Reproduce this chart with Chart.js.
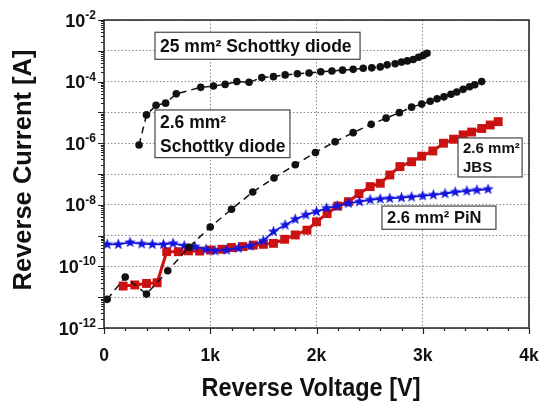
<!DOCTYPE html>
<html>
<head>
<meta charset="utf-8">
<script src="https://cdn.jsdelivr.net/npm/chart.js@4/dist/chart.umd.min.js"></script>
<style>
html, body { margin: 0; padding: 0; background: #fff; }
</style>
</head>
<body>
<canvas id="ivChart" width="541" height="405"></canvas>
<script>
// reverse voltage [V] / reverse current [A]
const voltSchottky25 = [330, 400, 490, 580, 680, 910, 1030, 1140, 1250, 1365, 1485, 1595, 1705, 1820, 1930, 2040, 2145, 2245, 2345, 2440, 2520, 2600, 2665, 2740, 2800, 2855, 2910, 2960, 3005, 3040];
const currSchottky25 = [8.7e-7, 8.3e-6, 1.7e-5, 2.0e-5, 4.0e-5, 6.5e-5, 7.2e-5, 8.1e-5, 1.0e-4, 9.5e-5, 1.35e-4, 1.45e-4, 1.65e-4, 1.8e-4, 1.9e-4, 2.1e-4, 2.2e-4, 2.35e-4, 2.5e-4, 2.7e-4, 2.8e-4, 3.0e-4, 3.5e-4, 3.8e-4, 4.3e-4, 4.7e-4, 5.2e-4, 6.2e-4, 7.1e-4, 8.3e-4];

const voltSchottky26 = [30, 200, 400, 600, 800, 1000, 1200, 1400, 1600, 1800, 1990, 2175, 2345, 2515, 2655, 2780, 2895, 2990, 3070, 3135, 3200, 3265, 3320, 3380, 3440, 3490, 3555];
const currSchottky26 = [8.5e-12, 4.5e-11, 1.26e-11, 7.2e-11, 4.2e-10, 1.9e-9, 7.2e-9, 2.6e-8, 7.4e-8, 2.0e-7, 5.0e-7, 1.12e-6, 2.2e-6, 4.1e-6, 6.5e-6, 9.8e-6, 1.48e-5, 1.86e-5, 2.3e-5, 2.75e-5, 3.2e-5, 3.9e-5, 4.6e-5, 5.6e-5, 6.8e-5, 7.9e-5, 1.0e-4];

const voltJBS = [180, 290, 400, 500, 590, 700, 795, 900, 1000, 1110, 1200, 1305, 1405, 1500, 1595, 1700, 1800, 1910, 2000, 2100, 2200, 2300, 2400, 2505, 2600, 2690, 2785, 2895, 2990, 3095, 3195, 3290, 3380, 3460, 3555, 3635, 3710];
const currJBS = [2.3e-11, 2.5e-11, 2.8e-11, 2.95e-11, 3.0e-10, 3.0e-10, 3.2e-10, 3.15e-10, 3.4e-10, 3.6e-10, 4.1e-10, 4.4e-10, 4.9e-10, 5.2e-10, 5.6e-10, 7.6e-10, 1.05e-9, 1.5e-9, 2.8e-9, 5.2e-9, 9.1e-9, 1.26e-8, 2.3e-8, 3.9e-8, 5.0e-8, 9.3e-8, 1.74e-7, 2.5e-7, 3.8e-7, 5.6e-7, 1.0e-6, 1.35e-6, 1.86e-6, 2.3e-6, 3.0e-6, 3.9e-6, 5.0e-6];

const voltPiN = [30, 135, 245, 355, 455, 560, 650, 755, 855, 960, 1045, 1155, 1265, 1375, 1500, 1595, 1705, 1800, 1900, 2000, 2095, 2195, 2300, 2405, 2505, 2600, 2690, 2800, 2895, 3000, 3100, 3210, 3305, 3415, 3510, 3615];
const currPiN = [5.2e-10, 5.2e-10, 6.0e-10, 5.4e-10, 5.2e-10, 5.2e-10, 5.6e-10, 4.7e-10, 4.4e-10, 3.6e-10, 3.2e-10, 3.4e-10, 3.9e-10, 4.6e-10, 6.8e-10, 1.35e-9, 2.2e-9, 3.4e-9, 4.7e-9, 6.0e-9, 7.8e-9, 9.1e-9, 1.12e-8, 1.26e-8, 1.45e-8, 1.55e-8, 1.62e-8, 1.7e-8, 1.8e-8, 1.95e-8, 2.1e-8, 2.3e-8, 2.6e-8, 2.8e-8, 3.0e-8, 3.2e-8];

const xTickValues = [0, 1000, 2000, 3000, 4000];
const xTickLabels = ['0', '1k', '2k', '3k', '4k'];
const yDecades = [-12, -11, -10, -9, -8, -7, -6, -5, -4, -3, -2];
const yLabelDecades = [-12, -10, -8, -6, -4, -2];

const FONT = '"Liberation Sans", Arial, sans-serif';

// label boxes, corners in data units
const notes = [
  { x1: 480, x2: 2410, y1: 4.0e-3, y2: 5.3e-4, size: 17.5, lines: ['25 mm² Schottky diode'] },
  { x1: 480, x2: 1750, y1: 1.2e-5, y2: 3.4e-7, size: 17.5, lines: ['2.6 mm²', 'Schottky diode'] },
  { x1: 3332, x2: 3935, y1: 1.48e-6, y2: 8.0e-8, size: 15, lines: ['2.6 mm²', 'JBS'] },
  { x1: 2616, x2: 3689, y1: 9.1e-9, y2: 1.6e-9, size: 16.5, lines: ['2.6 mm² PiN'] }
];

function toPoints(xs, ys) {
  return xs.map((v, i) => ({ x: v, y: ys[i] }));
}

// filled star marker for the PiN curve
function makeStar(color) {
  const c = document.createElement('canvas');
  c.width = 13; c.height = 13;
  const g = c.getContext('2d');
  g.fillStyle = color;
  g.beginPath();
  for (let i = 0; i < 10; i++) {
    const r = i % 2 === 0 ? 6 : 2.5;
    const a = -Math.PI / 2 + i * Math.PI / 5;
    g.lineTo(6.5 + r * Math.cos(a), 6.5 + r * Math.sin(a));
  }
  g.closePath();
  g.fill();
  return c;
}

const BLUE = '#1414dc';
const RED = '#cc1111';

const framePlugin = {
  id: 'framePlugin',
  afterDatasetsDraw(chart) {
    const { ctx, chartArea: a, scales: { x, y } } = chart;
    ctx.save();

    // annotation boxes
    notes.forEach(n => {
      const l = x.getPixelForValue(n.x1), r = x.getPixelForValue(n.x2);
      const t = y.getPixelForValue(n.y1), b = y.getPixelForValue(n.y2);
      ctx.fillStyle = '#fff';
      ctx.fillRect(l, t, r - l, b - t);
      ctx.strokeStyle = '#444';
      ctx.lineWidth = 1.2;
      ctx.strokeRect(l, t, r - l, b - t);
      ctx.fillStyle = '#111';
      ctx.font = 'bold ' + n.size + 'px ' + FONT;
      ctx.textBaseline = 'middle';
      ctx.textAlign = 'left';
      const step = (b - t) / n.lines.length;
      n.lines.forEach((s, i) => ctx.fillText(s, l + 5, t + step * (i + 0.5) + 1));
    });

    // frame
    ctx.strokeStyle = '#222';
    ctx.lineWidth = 1.5;
    ctx.strokeRect(a.left, a.top, a.right - a.left, a.bottom - a.top);

    // x ticks (outward)
    ctx.lineWidth = 1.2;
    ctx.beginPath();
    for (let v = 0; v <= 4000; v += 200) {
      const px = Math.round(x.getPixelForValue(v)) + 0.5;
      const len = v % 1000 === 0 ? 6 : 3;
      ctx.moveTo(px, a.bottom);
      ctx.lineTo(px, a.bottom + len);
    }
    // y ticks (outward), decades plus minors
    for (let e = -12; e <= -2; e++) {
      for (let m = 1; m < 10; m++) {
        if (e === -2 && m > 1) break;
        const py = Math.round(y.getPixelForValue(m * Math.pow(10, e))) + 0.5;
        const len = m === 1 ? 6 : 3;
        ctx.moveTo(a.left, py);
        ctx.lineTo(a.left - len, py);
      }
    }
    ctx.stroke();

    // y tick labels as 10 with a raised exponent
    ctx.fillStyle = '#111';
    ctx.textAlign = 'right';
    ctx.textBaseline = 'alphabetic';
    yLabelDecades.forEach(e => {
      const py = y.getPixelForValue(Math.pow(10, e));
      const right = a.left - 8;
      ctx.font = 'bold 12px ' + FONT;
      const expText = String(e);
      const w = ctx.measureText(expText).width;
      ctx.fillText(expText, right, py - 1);
      ctx.font = 'bold 18px ' + FONT;
      ctx.fillText('10', right - w, py + 6.5);
    });
    ctx.restore();
  },
  afterDraw(chart) {
    const { ctx } = chart;
    ctx.save();
    ctx.fillStyle = '#111';
    ctx.textAlign = 'center';
    ctx.textBaseline = 'middle';
    ctx.save();
    ctx.translate(311, 389);
    ctx.scale(1, 1.12);
    ctx.font = 'bold 23.5px ' + FONT;
    ctx.fillText('Reverse Voltage [V]', 0, 0);
    ctx.restore();
    ctx.translate(24, 170);
    ctx.rotate(-Math.PI / 2);
    ctx.font = 'bold 25.5px ' + FONT;
    ctx.fillText('Reverse Current [A]', 0, 0);
    ctx.restore();
  }
};

new Chart(document.getElementById('ivChart'), {
  type: 'scatter',
  data: {
    datasets: [
      {
        label: '25 mm² Schottky diode',
        data: toPoints(voltSchottky25, currSchottky25),
        showLine: true,
        borderColor: '#111',
        borderWidth: 1.5,
        borderDash: [7, 5],
        pointStyle: 'circle',
        pointRadius: 3.8,
        pointBackgroundColor: '#111',
        pointBorderWidth: 0
      },
      {
        label: '2.6 mm² Schottky diode',
        data: toPoints(voltSchottky26, currSchottky26),
        showLine: true,
        borderColor: '#111',
        borderWidth: 1.5,
        borderDash: [7, 5],
        pointStyle: 'circle',
        pointRadius: 3.8,
        pointBackgroundColor: '#111',
        pointBorderWidth: 0
      },
      {
        label: '2.6 mm² PiN',
        data: toPoints(voltPiN, currPiN),
        showLine: true,
        borderColor: BLUE,
        borderWidth: 1.8,
        pointStyle: makeStar(BLUE),
        pointRadius: 5
      },
      {
        label: '2.6 mm² JBS',
        data: toPoints(voltJBS, currJBS),
        showLine: true,
        borderColor: RED,
        borderWidth: 3,
        pointStyle: 'rect',
        pointRadius: 6.3,
        pointBackgroundColor: RED,
        pointBorderWidth: 0
      }
    ]
  },
  options: {
    responsive: false,
    animation: false,
    layout: { padding: { top: 20, right: 12, left: 0, bottom: 0 } },
    plugins: {
      legend: { display: false },
      tooltip: { enabled: false }
    },
    scales: {
      x: {
        type: 'linear',
        min: 0,
        max: 4000,
        afterFit(scale) {
          scale.height = 77;
          scale.paddingLeft = 0;
          scale.paddingRight = 0;
        },
        afterBuildTicks(scale) {
          scale.ticks = xTickValues.map(v => ({ value: v }));
        },
        ticks: {
          padding: 18,
          color: '#111',
          font: { family: FONT, size: 17.5, weight: 'bold' },
          maxRotation: 0,
          callback: (v) => xTickLabels[xTickValues.indexOf(v)]
        },
        grid: {
          drawTicks: false,
          color: '#8a8a8a',
          lineWidth: 1
        },
        border: { display: false, dash: [1.5, 2] }
      },
      y: {
        type: 'logarithmic',
        min: 1e-12,
        max: 1e-2,
        afterFit(scale) {
          scale.width = 104;
          scale.paddingTop = 0;
          scale.paddingBottom = 0;
        },
        afterBuildTicks(scale) {
          scale.ticks = yDecades.map(e => ({ value: Math.pow(10, e) }));
        },
        ticks: { display: false },
        grid: {
          drawTicks: false,
          color: '#8a8a8a',
          lineWidth: 1
        },
        border: { display: false, dash: [1.5, 2] }
      }
    }
  },
  plugins: [framePlugin]
});
</script>
</body>
</html>
